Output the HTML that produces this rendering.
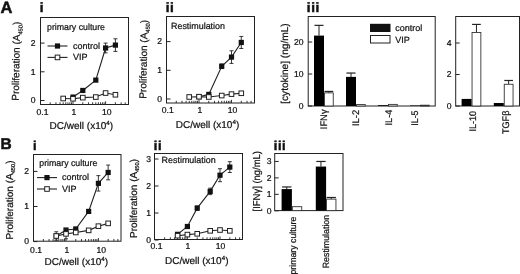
<!DOCTYPE html>
<html><head><meta charset="utf-8"><title>Figure</title>
<style>html,body{margin:0;padding:0;background:#fff;}svg{display:block;}</style></head>
<body>
<svg width="520" height="274" viewBox="0 0 520 274" font-family="'Liberation Sans', Arial, Helvetica, sans-serif" fill="#111" text-rendering="geometricPrecision">
<rect width="520" height="274" fill="#fff"/>
<rect x="40.50" y="17.50" width="88.00" height="87.00" fill="none" stroke="#222" stroke-width="1"/>
<line x1="40.50" y1="100.50" x2="44.50" y2="100.50" stroke="#222" stroke-width="1"/>
<text x="35.50" y="103.30" font-size="8.6" text-anchor="end" font-weight="normal" stroke="#111" stroke-width="0.22">0</text>
<line x1="40.50" y1="71.80" x2="44.50" y2="71.80" stroke="#222" stroke-width="1"/>
<text x="35.50" y="74.60" font-size="8.6" text-anchor="end" font-weight="normal" stroke="#111" stroke-width="0.22">1</text>
<line x1="40.50" y1="43.10" x2="44.50" y2="43.10" stroke="#222" stroke-width="1"/>
<text x="35.50" y="45.90" font-size="8.6" text-anchor="end" font-weight="normal" stroke="#111" stroke-width="0.22">2</text>
<line x1="50.21" y1="104.50" x2="50.21" y2="102.30" stroke="#222" stroke-width="0.9"/>
<line x1="55.95" y1="104.50" x2="55.95" y2="102.30" stroke="#222" stroke-width="0.9"/>
<line x1="60.03" y1="104.50" x2="60.03" y2="102.30" stroke="#222" stroke-width="0.9"/>
<line x1="63.19" y1="104.50" x2="63.19" y2="102.30" stroke="#222" stroke-width="0.9"/>
<line x1="65.77" y1="104.50" x2="65.77" y2="102.30" stroke="#222" stroke-width="0.9"/>
<line x1="67.95" y1="104.50" x2="67.95" y2="102.30" stroke="#222" stroke-width="0.9"/>
<line x1="69.84" y1="104.50" x2="69.84" y2="102.30" stroke="#222" stroke-width="0.9"/>
<line x1="71.51" y1="104.50" x2="71.51" y2="102.30" stroke="#222" stroke-width="0.9"/>
<line x1="73.00" y1="104.50" x2="73.00" y2="101.30" stroke="#222" stroke-width="0.9"/>
<line x1="82.81" y1="104.50" x2="82.81" y2="102.30" stroke="#222" stroke-width="0.9"/>
<line x1="88.55" y1="104.50" x2="88.55" y2="102.30" stroke="#222" stroke-width="0.9"/>
<line x1="92.63" y1="104.50" x2="92.63" y2="102.30" stroke="#222" stroke-width="0.9"/>
<line x1="95.79" y1="104.50" x2="95.79" y2="102.30" stroke="#222" stroke-width="0.9"/>
<line x1="98.37" y1="104.50" x2="98.37" y2="102.30" stroke="#222" stroke-width="0.9"/>
<line x1="100.55" y1="104.50" x2="100.55" y2="102.30" stroke="#222" stroke-width="0.9"/>
<line x1="102.44" y1="104.50" x2="102.44" y2="102.30" stroke="#222" stroke-width="0.9"/>
<line x1="104.11" y1="104.50" x2="104.11" y2="102.30" stroke="#222" stroke-width="0.9"/>
<line x1="105.60" y1="104.50" x2="105.60" y2="101.30" stroke="#222" stroke-width="0.9"/>
<line x1="115.41" y1="104.50" x2="115.41" y2="102.30" stroke="#222" stroke-width="0.9"/>
<line x1="121.15" y1="104.50" x2="121.15" y2="102.30" stroke="#222" stroke-width="0.9"/>
<line x1="125.23" y1="104.50" x2="125.23" y2="102.30" stroke="#222" stroke-width="0.9"/>
<text x="42.50" y="115.00" font-size="8.6" text-anchor="middle" font-weight="normal" stroke="#111" stroke-width="0.22">0.1</text>
<text x="73.80" y="115.00" font-size="8.6" text-anchor="middle" font-weight="normal" stroke="#111" stroke-width="0.22">1</text>
<text x="106.80" y="115.00" font-size="8.6" text-anchor="middle" font-weight="normal" stroke="#111" stroke-width="0.22">10</text>
<text x="47.00" y="29.70" font-size="9" text-anchor="start" font-weight="normal" stroke="#111" stroke-width="0.22" textLength="58" lengthAdjust="spacingAndGlyphs">primary culture</text>
<polyline fill="none" stroke="#222" stroke-width="1.1" points="73.00,97.06 82.81,90.45 95.79,80.12 105.60,47.98 115.41,45.11"/>
<line x1="105.60" y1="43.10" x2="105.60" y2="52.86" stroke="#222" stroke-width="0.9"/>
<line x1="103.60" y1="43.10" x2="107.60" y2="43.10" stroke="#222" stroke-width="0.9"/>
<line x1="103.60" y1="52.86" x2="107.60" y2="52.86" stroke="#222" stroke-width="0.9"/>
<line x1="115.41" y1="38.80" x2="115.41" y2="51.42" stroke="#222" stroke-width="0.9"/>
<line x1="113.41" y1="38.80" x2="117.41" y2="38.80" stroke="#222" stroke-width="0.9"/>
<line x1="113.41" y1="51.42" x2="117.41" y2="51.42" stroke="#222" stroke-width="0.9"/>
<rect x="70.40" y="94.46" width="5.20" height="5.20" fill="#111" stroke="none" stroke-width="1"/>
<rect x="80.21" y="87.86" width="5.20" height="5.20" fill="#111" stroke="none" stroke-width="1"/>
<rect x="93.19" y="77.52" width="5.20" height="5.20" fill="#111" stroke="none" stroke-width="1"/>
<rect x="103.00" y="45.38" width="5.20" height="5.20" fill="#111" stroke="none" stroke-width="1"/>
<rect x="112.81" y="42.51" width="5.20" height="5.20" fill="#111" stroke="none" stroke-width="1"/>
<polyline fill="none" stroke="#222" stroke-width="1.1" points="63.19,98.49 73.00,98.78 82.81,97.63 95.79,97.06 105.60,93.04 115.41,94.76"/>
<rect x="60.89" y="96.19" width="4.60" height="4.60" fill="#fff" stroke="#222" stroke-width="1"/>
<rect x="70.70" y="96.48" width="4.60" height="4.60" fill="#fff" stroke="#222" stroke-width="1"/>
<rect x="80.51" y="95.33" width="4.60" height="4.60" fill="#fff" stroke="#222" stroke-width="1"/>
<rect x="93.49" y="94.76" width="4.60" height="4.60" fill="#fff" stroke="#222" stroke-width="1"/>
<rect x="103.30" y="90.74" width="4.60" height="4.60" fill="#fff" stroke="#222" stroke-width="1"/>
<rect x="113.11" y="92.46" width="4.60" height="4.60" fill="#fff" stroke="#222" stroke-width="1"/>
<line x1="47.50" y1="46.00" x2="67.50" y2="46.00" stroke="#222" stroke-width="1.1"/>
<rect x="54.90" y="43.40" width="5.20" height="5.20" fill="#111" stroke="none" stroke-width="1"/>
<line x1="47.50" y1="57.40" x2="67.50" y2="57.40" stroke="#222" stroke-width="1.1"/>
<rect x="55.20" y="55.10" width="4.60" height="4.60" fill="#fff" stroke="#222" stroke-width="1"/>
<text x="73.00" y="48.60" font-size="9" text-anchor="start" font-weight="normal" stroke="#111" stroke-width="0.22">control</text>
<text x="73.00" y="60.00" font-size="9" text-anchor="start" font-weight="normal" stroke="#111" stroke-width="0.22">VIP</text>
<text x="18.80" y="100.70" font-size="10" text-anchor="start" font-weight="normal" stroke="#111" stroke-width="0.22" transform="rotate(-89 18.80 100.70)">Proliferation (A<tspan font-size="5.7" dy="2.4">450</tspan><tspan dy="-2.4">)</tspan></text>
<text x="49.60" y="129.00" font-size="10" text-anchor="start" font-weight="normal" stroke="#111" stroke-width="0.22">DC/well (x10<tspan font-size="6.2" dy="-4">4</tspan><tspan dy="4">)</tspan></text>
<rect x="166.50" y="16.50" width="88.00" height="86.50" fill="none" stroke="#222" stroke-width="1"/>
<line x1="166.50" y1="99.00" x2="170.50" y2="99.00" stroke="#222" stroke-width="1"/>
<text x="162.00" y="101.80" font-size="8.6" text-anchor="end" font-weight="normal" stroke="#111" stroke-width="0.22">0</text>
<line x1="166.50" y1="70.30" x2="170.50" y2="70.30" stroke="#222" stroke-width="1"/>
<text x="162.00" y="73.10" font-size="8.6" text-anchor="end" font-weight="normal" stroke="#111" stroke-width="0.22">1</text>
<line x1="166.50" y1="41.60" x2="170.50" y2="41.60" stroke="#222" stroke-width="1"/>
<text x="162.00" y="44.40" font-size="8.6" text-anchor="end" font-weight="normal" stroke="#111" stroke-width="0.22">2</text>
<line x1="176.28" y1="103.00" x2="176.28" y2="100.80" stroke="#222" stroke-width="0.9"/>
<line x1="182.01" y1="103.00" x2="182.01" y2="100.80" stroke="#222" stroke-width="0.9"/>
<line x1="186.07" y1="103.00" x2="186.07" y2="100.80" stroke="#222" stroke-width="0.9"/>
<line x1="189.22" y1="103.00" x2="189.22" y2="100.80" stroke="#222" stroke-width="0.9"/>
<line x1="191.79" y1="103.00" x2="191.79" y2="100.80" stroke="#222" stroke-width="0.9"/>
<line x1="193.97" y1="103.00" x2="193.97" y2="100.80" stroke="#222" stroke-width="0.9"/>
<line x1="195.85" y1="103.00" x2="195.85" y2="100.80" stroke="#222" stroke-width="0.9"/>
<line x1="197.51" y1="103.00" x2="197.51" y2="100.80" stroke="#222" stroke-width="0.9"/>
<line x1="199.00" y1="103.00" x2="199.00" y2="99.80" stroke="#222" stroke-width="0.9"/>
<line x1="208.78" y1="103.00" x2="208.78" y2="100.80" stroke="#222" stroke-width="0.9"/>
<line x1="214.51" y1="103.00" x2="214.51" y2="100.80" stroke="#222" stroke-width="0.9"/>
<line x1="218.57" y1="103.00" x2="218.57" y2="100.80" stroke="#222" stroke-width="0.9"/>
<line x1="221.72" y1="103.00" x2="221.72" y2="100.80" stroke="#222" stroke-width="0.9"/>
<line x1="224.29" y1="103.00" x2="224.29" y2="100.80" stroke="#222" stroke-width="0.9"/>
<line x1="226.47" y1="103.00" x2="226.47" y2="100.80" stroke="#222" stroke-width="0.9"/>
<line x1="228.35" y1="103.00" x2="228.35" y2="100.80" stroke="#222" stroke-width="0.9"/>
<line x1="230.01" y1="103.00" x2="230.01" y2="100.80" stroke="#222" stroke-width="0.9"/>
<line x1="231.50" y1="103.00" x2="231.50" y2="99.80" stroke="#222" stroke-width="0.9"/>
<line x1="241.28" y1="103.00" x2="241.28" y2="100.80" stroke="#222" stroke-width="0.9"/>
<line x1="247.01" y1="103.00" x2="247.01" y2="100.80" stroke="#222" stroke-width="0.9"/>
<line x1="251.07" y1="103.00" x2="251.07" y2="100.80" stroke="#222" stroke-width="0.9"/>
<text x="167.75" y="113.30" font-size="8.6" text-anchor="middle" font-weight="normal" stroke="#111" stroke-width="0.22">0.1</text>
<text x="199.80" y="113.30" font-size="8.6" text-anchor="middle" font-weight="normal" stroke="#111" stroke-width="0.22">1</text>
<text x="232.50" y="113.30" font-size="8.6" text-anchor="middle" font-weight="normal" stroke="#111" stroke-width="0.22">10</text>
<text x="171.00" y="29.30" font-size="9" text-anchor="start" font-weight="normal" stroke="#111" stroke-width="0.22" textLength="54" lengthAdjust="spacingAndGlyphs">Restimulation</text>
<polyline fill="none" stroke="#222" stroke-width="1.1" points="199.00,96.70 208.78,94.41 221.72,66.28 231.50,57.10 241.28,42.46"/>
<line x1="221.72" y1="63.99" x2="221.72" y2="68.58" stroke="#222" stroke-width="0.9"/>
<line x1="219.72" y1="63.99" x2="223.72" y2="63.99" stroke="#222" stroke-width="0.9"/>
<line x1="219.72" y1="68.58" x2="223.72" y2="68.58" stroke="#222" stroke-width="0.9"/>
<line x1="231.50" y1="50.78" x2="231.50" y2="63.41" stroke="#222" stroke-width="0.9"/>
<line x1="229.50" y1="50.78" x2="233.50" y2="50.78" stroke="#222" stroke-width="0.9"/>
<line x1="229.50" y1="63.41" x2="233.50" y2="63.41" stroke="#222" stroke-width="0.9"/>
<line x1="241.28" y1="36.43" x2="241.28" y2="48.49" stroke="#222" stroke-width="0.9"/>
<line x1="239.28" y1="36.43" x2="243.28" y2="36.43" stroke="#222" stroke-width="0.9"/>
<line x1="239.28" y1="48.49" x2="243.28" y2="48.49" stroke="#222" stroke-width="0.9"/>
<rect x="196.40" y="94.10" width="5.20" height="5.20" fill="#111" stroke="none" stroke-width="1"/>
<rect x="206.18" y="91.81" width="5.20" height="5.20" fill="#111" stroke="none" stroke-width="1"/>
<rect x="219.12" y="63.68" width="5.20" height="5.20" fill="#111" stroke="none" stroke-width="1"/>
<rect x="228.90" y="54.50" width="5.20" height="5.20" fill="#111" stroke="none" stroke-width="1"/>
<rect x="238.68" y="39.86" width="5.20" height="5.20" fill="#111" stroke="none" stroke-width="1"/>
<polyline fill="none" stroke="#222" stroke-width="1.1" points="189.22,96.99 199.00,96.70 208.78,96.99 221.72,95.56 231.50,94.12 241.28,93.26"/>
<rect x="186.92" y="94.69" width="4.60" height="4.60" fill="#fff" stroke="#222" stroke-width="1"/>
<rect x="196.70" y="94.40" width="4.60" height="4.60" fill="#fff" stroke="#222" stroke-width="1"/>
<rect x="206.48" y="94.69" width="4.60" height="4.60" fill="#fff" stroke="#222" stroke-width="1"/>
<rect x="219.42" y="93.26" width="4.60" height="4.60" fill="#fff" stroke="#222" stroke-width="1"/>
<rect x="229.20" y="91.82" width="4.60" height="4.60" fill="#fff" stroke="#222" stroke-width="1"/>
<rect x="238.98" y="90.96" width="4.60" height="4.60" fill="#fff" stroke="#222" stroke-width="1"/>
<text x="146.20" y="98.80" font-size="10" text-anchor="start" font-weight="normal" stroke="#111" stroke-width="0.22" transform="rotate(-89 146.20 98.80)">Proliferation (A<tspan font-size="5.7" dy="2.4">450</tspan><tspan dy="-2.4">)</tspan></text>
<text x="175.75" y="127.50" font-size="10" text-anchor="start" font-weight="normal" stroke="#111" stroke-width="0.22">DC/well (x10<tspan font-size="6.2" dy="-4">4</tspan><tspan dy="4">)</tspan></text>
<rect x="33.50" y="154.50" width="87.50" height="86.70" fill="none" stroke="#222" stroke-width="1"/>
<line x1="33.50" y1="241.60" x2="37.50" y2="241.60" stroke="#222" stroke-width="1"/>
<text x="29.00" y="244.40" font-size="8.6" text-anchor="end" font-weight="normal" stroke="#111" stroke-width="0.22">0</text>
<line x1="33.50" y1="206.50" x2="37.50" y2="206.50" stroke="#222" stroke-width="1"/>
<text x="29.00" y="209.30" font-size="8.6" text-anchor="end" font-weight="normal" stroke="#111" stroke-width="0.22">1</text>
<line x1="33.50" y1="171.40" x2="37.50" y2="171.40" stroke="#222" stroke-width="1"/>
<text x="29.00" y="174.20" font-size="8.6" text-anchor="end" font-weight="normal" stroke="#111" stroke-width="0.22">2</text>
<line x1="43.35" y1="241.20" x2="43.35" y2="239.00" stroke="#222" stroke-width="0.9"/>
<line x1="49.06" y1="241.20" x2="49.06" y2="239.00" stroke="#222" stroke-width="0.9"/>
<line x1="53.11" y1="241.20" x2="53.11" y2="239.00" stroke="#222" stroke-width="0.9"/>
<line x1="56.25" y1="241.20" x2="56.25" y2="239.00" stroke="#222" stroke-width="0.9"/>
<line x1="58.81" y1="241.20" x2="58.81" y2="239.00" stroke="#222" stroke-width="0.9"/>
<line x1="60.98" y1="241.20" x2="60.98" y2="239.00" stroke="#222" stroke-width="0.9"/>
<line x1="62.86" y1="241.20" x2="62.86" y2="239.00" stroke="#222" stroke-width="0.9"/>
<line x1="64.52" y1="241.20" x2="64.52" y2="239.00" stroke="#222" stroke-width="0.9"/>
<line x1="66.00" y1="241.20" x2="66.00" y2="238.00" stroke="#222" stroke-width="0.9"/>
<line x1="75.75" y1="241.20" x2="75.75" y2="239.00" stroke="#222" stroke-width="0.9"/>
<line x1="81.46" y1="241.20" x2="81.46" y2="239.00" stroke="#222" stroke-width="0.9"/>
<line x1="85.51" y1="241.20" x2="85.51" y2="239.00" stroke="#222" stroke-width="0.9"/>
<line x1="88.65" y1="241.20" x2="88.65" y2="239.00" stroke="#222" stroke-width="0.9"/>
<line x1="91.21" y1="241.20" x2="91.21" y2="239.00" stroke="#222" stroke-width="0.9"/>
<line x1="93.38" y1="241.20" x2="93.38" y2="239.00" stroke="#222" stroke-width="0.9"/>
<line x1="95.26" y1="241.20" x2="95.26" y2="239.00" stroke="#222" stroke-width="0.9"/>
<line x1="96.92" y1="241.20" x2="96.92" y2="239.00" stroke="#222" stroke-width="0.9"/>
<line x1="98.40" y1="241.20" x2="98.40" y2="238.00" stroke="#222" stroke-width="0.9"/>
<line x1="108.15" y1="241.20" x2="108.15" y2="239.00" stroke="#222" stroke-width="0.9"/>
<line x1="113.86" y1="241.20" x2="113.86" y2="239.00" stroke="#222" stroke-width="0.9"/>
<line x1="117.91" y1="241.20" x2="117.91" y2="239.00" stroke="#222" stroke-width="0.9"/>
<text x="36.10" y="252.60" font-size="8.6" text-anchor="middle" font-weight="normal" stroke="#111" stroke-width="0.22">0.1</text>
<text x="66.80" y="252.60" font-size="8.6" text-anchor="middle" font-weight="normal" stroke="#111" stroke-width="0.22">1</text>
<text x="101.30" y="252.60" font-size="8.6" text-anchor="middle" font-weight="normal" stroke="#111" stroke-width="0.22">10</text>
<text x="39.30" y="166.20" font-size="9" text-anchor="start" font-weight="normal" stroke="#111" stroke-width="0.22" textLength="58" lengthAdjust="spacingAndGlyphs">primary culture</text>
<polyline fill="none" stroke="#222" stroke-width="1.1" points="56.25,235.98 66.00,230.02 75.75,228.96 88.65,211.41 98.40,183.33 108.15,172.45"/>
<line x1="98.40" y1="175.61" x2="98.40" y2="191.06" stroke="#222" stroke-width="0.9"/>
<line x1="96.40" y1="175.61" x2="100.40" y2="175.61" stroke="#222" stroke-width="0.9"/>
<line x1="96.40" y1="191.06" x2="100.40" y2="191.06" stroke="#222" stroke-width="0.9"/>
<line x1="108.15" y1="165.08" x2="108.15" y2="179.82" stroke="#222" stroke-width="0.9"/>
<line x1="106.15" y1="165.08" x2="110.15" y2="165.08" stroke="#222" stroke-width="0.9"/>
<line x1="106.15" y1="179.82" x2="110.15" y2="179.82" stroke="#222" stroke-width="0.9"/>
<rect x="53.65" y="233.38" width="5.20" height="5.20" fill="#111" stroke="none" stroke-width="1"/>
<rect x="63.40" y="227.42" width="5.20" height="5.20" fill="#111" stroke="none" stroke-width="1"/>
<rect x="73.15" y="226.36" width="5.20" height="5.20" fill="#111" stroke="none" stroke-width="1"/>
<rect x="86.05" y="208.81" width="5.20" height="5.20" fill="#111" stroke="none" stroke-width="1"/>
<rect x="95.80" y="180.73" width="5.20" height="5.20" fill="#111" stroke="none" stroke-width="1"/>
<rect x="105.55" y="169.85" width="5.20" height="5.20" fill="#111" stroke="none" stroke-width="1"/>
<polyline fill="none" stroke="#222" stroke-width="1.1" points="56.25,235.98 66.00,233.88 75.75,232.47 88.65,230.37 98.40,226.16 108.15,223.35"/>
<line x1="56.25" y1="231.77" x2="56.25" y2="240.20" stroke="#222" stroke-width="0.9"/>
<line x1="54.25" y1="231.77" x2="58.25" y2="231.77" stroke="#222" stroke-width="0.9"/>
<line x1="54.25" y1="240.20" x2="58.25" y2="240.20" stroke="#222" stroke-width="0.9"/>
<line x1="66.00" y1="228.96" x2="66.00" y2="238.79" stroke="#222" stroke-width="0.9"/>
<line x1="64.00" y1="228.96" x2="68.00" y2="228.96" stroke="#222" stroke-width="0.9"/>
<line x1="64.00" y1="238.79" x2="68.00" y2="238.79" stroke="#222" stroke-width="0.9"/>
<rect x="53.95" y="233.68" width="4.60" height="4.60" fill="#fff" stroke="#222" stroke-width="1"/>
<rect x="63.70" y="231.58" width="4.60" height="4.60" fill="#fff" stroke="#222" stroke-width="1"/>
<rect x="73.45" y="230.17" width="4.60" height="4.60" fill="#fff" stroke="#222" stroke-width="1"/>
<rect x="86.35" y="228.07" width="4.60" height="4.60" fill="#fff" stroke="#222" stroke-width="1"/>
<rect x="96.10" y="223.86" width="4.60" height="4.60" fill="#fff" stroke="#222" stroke-width="1"/>
<rect x="105.85" y="221.05" width="4.60" height="4.60" fill="#fff" stroke="#222" stroke-width="1"/>
<line x1="37.00" y1="177.60" x2="57.00" y2="177.60" stroke="#222" stroke-width="1.1"/>
<rect x="44.40" y="175.00" width="5.20" height="5.20" fill="#111" stroke="none" stroke-width="1"/>
<line x1="37.00" y1="189.00" x2="57.00" y2="189.00" stroke="#222" stroke-width="1.1"/>
<rect x="44.70" y="186.70" width="4.60" height="4.60" fill="#fff" stroke="#222" stroke-width="1"/>
<text x="62.00" y="180.20" font-size="9" text-anchor="start" font-weight="normal" stroke="#111" stroke-width="0.22">control</text>
<text x="62.00" y="191.60" font-size="9" text-anchor="start" font-weight="normal" stroke="#111" stroke-width="0.22">VIP</text>
<text x="13.00" y="239.50" font-size="10" text-anchor="start" font-weight="normal" stroke="#111" stroke-width="0.22" transform="rotate(-90 13.00 239.50)">Proliferation (A<tspan font-size="5.7" dy="2.4">450</tspan><tspan dy="-2.4">)</tspan></text>
<text x="44.60" y="265.00" font-size="10" text-anchor="start" font-weight="normal" stroke="#111" stroke-width="0.22">DC/well (x10<tspan font-size="6.2" dy="-4">4</tspan><tspan dy="4">)</tspan></text>
<rect x="154.50" y="153.50" width="88.00" height="86.00" fill="none" stroke="#222" stroke-width="1"/>
<line x1="154.50" y1="240.00" x2="158.50" y2="240.00" stroke="#222" stroke-width="1"/>
<text x="151.00" y="242.80" font-size="8.6" text-anchor="end" font-weight="normal" stroke="#111" stroke-width="0.22">0</text>
<line x1="154.50" y1="213.00" x2="158.50" y2="213.00" stroke="#222" stroke-width="1"/>
<text x="151.00" y="215.80" font-size="8.6" text-anchor="end" font-weight="normal" stroke="#111" stroke-width="0.22">1</text>
<line x1="154.50" y1="186.00" x2="158.50" y2="186.00" stroke="#222" stroke-width="1"/>
<text x="151.00" y="188.80" font-size="8.6" text-anchor="end" font-weight="normal" stroke="#111" stroke-width="0.22">2</text>
<line x1="154.50" y1="159.00" x2="158.50" y2="159.00" stroke="#222" stroke-width="1"/>
<text x="151.00" y="161.80" font-size="8.6" text-anchor="end" font-weight="normal" stroke="#111" stroke-width="0.22">3</text>
<line x1="164.61" y1="239.50" x2="164.61" y2="237.30" stroke="#222" stroke-width="0.9"/>
<line x1="170.35" y1="239.50" x2="170.35" y2="237.30" stroke="#222" stroke-width="0.9"/>
<line x1="174.43" y1="239.50" x2="174.43" y2="237.30" stroke="#222" stroke-width="0.9"/>
<line x1="177.59" y1="239.50" x2="177.59" y2="237.30" stroke="#222" stroke-width="0.9"/>
<line x1="180.17" y1="239.50" x2="180.17" y2="237.30" stroke="#222" stroke-width="0.9"/>
<line x1="182.35" y1="239.50" x2="182.35" y2="237.30" stroke="#222" stroke-width="0.9"/>
<line x1="184.24" y1="239.50" x2="184.24" y2="237.30" stroke="#222" stroke-width="0.9"/>
<line x1="185.91" y1="239.50" x2="185.91" y2="237.30" stroke="#222" stroke-width="0.9"/>
<line x1="187.40" y1="239.50" x2="187.40" y2="236.30" stroke="#222" stroke-width="0.9"/>
<line x1="197.21" y1="239.50" x2="197.21" y2="237.30" stroke="#222" stroke-width="0.9"/>
<line x1="202.95" y1="239.50" x2="202.95" y2="237.30" stroke="#222" stroke-width="0.9"/>
<line x1="207.03" y1="239.50" x2="207.03" y2="237.30" stroke="#222" stroke-width="0.9"/>
<line x1="210.19" y1="239.50" x2="210.19" y2="237.30" stroke="#222" stroke-width="0.9"/>
<line x1="212.77" y1="239.50" x2="212.77" y2="237.30" stroke="#222" stroke-width="0.9"/>
<line x1="214.95" y1="239.50" x2="214.95" y2="237.30" stroke="#222" stroke-width="0.9"/>
<line x1="216.84" y1="239.50" x2="216.84" y2="237.30" stroke="#222" stroke-width="0.9"/>
<line x1="218.51" y1="239.50" x2="218.51" y2="237.30" stroke="#222" stroke-width="0.9"/>
<line x1="220.00" y1="239.50" x2="220.00" y2="236.30" stroke="#222" stroke-width="0.9"/>
<line x1="229.81" y1="239.50" x2="229.81" y2="237.30" stroke="#222" stroke-width="0.9"/>
<line x1="235.55" y1="239.50" x2="235.55" y2="237.30" stroke="#222" stroke-width="0.9"/>
<line x1="239.63" y1="239.50" x2="239.63" y2="237.30" stroke="#222" stroke-width="0.9"/>
<text x="156.55" y="249.00" font-size="8.6" text-anchor="middle" font-weight="normal" stroke="#111" stroke-width="0.22">0.1</text>
<text x="187.90" y="249.00" font-size="8.6" text-anchor="middle" font-weight="normal" stroke="#111" stroke-width="0.22">1</text>
<text x="220.60" y="249.00" font-size="8.6" text-anchor="middle" font-weight="normal" stroke="#111" stroke-width="0.22">10</text>
<text x="161.60" y="163.00" font-size="9" text-anchor="start" font-weight="normal" stroke="#111" stroke-width="0.22" textLength="54" lengthAdjust="spacingAndGlyphs">Restimulation</text>
<polyline fill="none" stroke="#222" stroke-width="1.1" points="177.59,234.33 187.40,226.50 197.21,208.14 210.19,191.40 220.00,175.20 229.81,167.10"/>
<line x1="197.21" y1="205.98" x2="197.21" y2="210.30" stroke="#222" stroke-width="0.9"/>
<line x1="195.21" y1="205.98" x2="199.21" y2="205.98" stroke="#222" stroke-width="0.9"/>
<line x1="195.21" y1="210.30" x2="199.21" y2="210.30" stroke="#222" stroke-width="0.9"/>
<line x1="210.19" y1="188.16" x2="210.19" y2="194.64" stroke="#222" stroke-width="0.9"/>
<line x1="208.19" y1="188.16" x2="212.19" y2="188.16" stroke="#222" stroke-width="0.9"/>
<line x1="208.19" y1="194.64" x2="212.19" y2="194.64" stroke="#222" stroke-width="0.9"/>
<line x1="220.00" y1="168.72" x2="220.00" y2="181.68" stroke="#222" stroke-width="0.9"/>
<line x1="218.00" y1="168.72" x2="222.00" y2="168.72" stroke="#222" stroke-width="0.9"/>
<line x1="218.00" y1="181.68" x2="222.00" y2="181.68" stroke="#222" stroke-width="0.9"/>
<line x1="229.81" y1="161.70" x2="229.81" y2="172.50" stroke="#222" stroke-width="0.9"/>
<line x1="227.81" y1="161.70" x2="231.81" y2="161.70" stroke="#222" stroke-width="0.9"/>
<line x1="227.81" y1="172.50" x2="231.81" y2="172.50" stroke="#222" stroke-width="0.9"/>
<rect x="174.99" y="231.73" width="5.20" height="5.20" fill="#111" stroke="none" stroke-width="1"/>
<rect x="184.80" y="223.90" width="5.20" height="5.20" fill="#111" stroke="none" stroke-width="1"/>
<rect x="194.61" y="205.54" width="5.20" height="5.20" fill="#111" stroke="none" stroke-width="1"/>
<rect x="207.59" y="188.80" width="5.20" height="5.20" fill="#111" stroke="none" stroke-width="1"/>
<rect x="217.40" y="172.60" width="5.20" height="5.20" fill="#111" stroke="none" stroke-width="1"/>
<rect x="227.21" y="164.50" width="5.20" height="5.20" fill="#111" stroke="none" stroke-width="1"/>
<polyline fill="none" stroke="#222" stroke-width="1.1" points="177.59,235.68 187.40,234.60 197.21,233.79 210.19,230.82 220.00,230.01 229.81,230.82"/>
<rect x="175.29" y="233.38" width="4.60" height="4.60" fill="#fff" stroke="#222" stroke-width="1"/>
<rect x="185.10" y="232.30" width="4.60" height="4.60" fill="#fff" stroke="#222" stroke-width="1"/>
<rect x="194.91" y="231.49" width="4.60" height="4.60" fill="#fff" stroke="#222" stroke-width="1"/>
<rect x="207.89" y="228.52" width="4.60" height="4.60" fill="#fff" stroke="#222" stroke-width="1"/>
<rect x="217.70" y="227.71" width="4.60" height="4.60" fill="#fff" stroke="#222" stroke-width="1"/>
<rect x="227.51" y="228.52" width="4.60" height="4.60" fill="#fff" stroke="#222" stroke-width="1"/>
<text x="137.00" y="238.00" font-size="10" text-anchor="start" font-weight="normal" stroke="#111" stroke-width="0.22" transform="rotate(-90 137.00 238.00)">Proliferation (A<tspan font-size="5.7" dy="2.4">450</tspan><tspan dy="-2.4">)</tspan></text>
<text x="165.00" y="263.50" font-size="10" text-anchor="start" font-weight="normal" stroke="#111" stroke-width="0.22">DC/well (x10<tspan font-size="6.2" dy="-4">4</tspan><tspan dy="4">)</tspan></text>
<rect x="308.20" y="16.50" width="127.00" height="89.50" fill="none" stroke="#222" stroke-width="1"/>
<line x1="308.20" y1="106.00" x2="312.20" y2="106.00" stroke="#222" stroke-width="1"/>
<text x="303.50" y="108.80" font-size="8.6" text-anchor="end" font-weight="normal" stroke="#111" stroke-width="0.22">0</text>
<line x1="308.20" y1="74.00" x2="312.20" y2="74.00" stroke="#222" stroke-width="1"/>
<text x="303.50" y="76.80" font-size="8.6" text-anchor="end" font-weight="normal" stroke="#111" stroke-width="0.22">10</text>
<line x1="308.20" y1="42.00" x2="312.20" y2="42.00" stroke="#222" stroke-width="1"/>
<text x="303.50" y="44.80" font-size="8.6" text-anchor="end" font-weight="normal" stroke="#111" stroke-width="0.22">20</text>
<line x1="319.00" y1="35.60" x2="319.00" y2="25.36" stroke="#222" stroke-width="1"/>
<line x1="314.50" y1="25.36" x2="323.50" y2="25.36" stroke="#222" stroke-width="1.2"/>
<rect x="314.00" y="35.60" width="10.00" height="70.40" fill="#000" stroke="none" stroke-width="1"/>
<line x1="328.85" y1="92.88" x2="328.85" y2="91.44" stroke="#222" stroke-width="1"/>
<line x1="324.50" y1="91.44" x2="333.20" y2="91.44" stroke="#222" stroke-width="1.2"/>
<rect x="324.45" y="92.88" width="8.80" height="13.12" fill="#fff" stroke="#333" stroke-width="0.9"/>
<line x1="351.00" y1="76.88" x2="351.00" y2="73.04" stroke="#222" stroke-width="1"/>
<line x1="346.50" y1="73.04" x2="355.50" y2="73.04" stroke="#222" stroke-width="1.2"/>
<rect x="346.00" y="76.88" width="10.00" height="29.12" fill="#000" stroke="none" stroke-width="1"/>
<rect x="356.45" y="104.56" width="8.80" height="1.44" fill="#fff" stroke="#333" stroke-width="0.9"/>
<rect x="378.00" y="105.20" width="10.00" height="0.80" fill="#000" stroke="none" stroke-width="1"/>
<rect x="388.45" y="104.40" width="8.80" height="1.60" fill="#fff" stroke="#333" stroke-width="0.9"/>
<rect x="410.00" y="105.52" width="10.00" height="0.48" fill="#000" stroke="none" stroke-width="1"/>
<rect x="420.45" y="105.20" width="8.80" height="0.80" fill="#fff" stroke="#333" stroke-width="0.9"/>
<rect x="370.00" y="23.80" width="20.50" height="8.20" fill="#111" stroke="none" stroke-width="1"/>
<rect x="370.50" y="35.50" width="19.50" height="7.50" fill="#fff" stroke="#222" stroke-width="1"/>
<text x="395.30" y="30.60" font-size="9" text-anchor="start" font-weight="normal" stroke="#111" stroke-width="0.22">control</text>
<text x="395.30" y="42.60" font-size="9" text-anchor="start" font-weight="normal" stroke="#111" stroke-width="0.22">VIP</text>
<rect x="455.70" y="16.50" width="63.80" height="89.50" fill="none" stroke="#222" stroke-width="1"/>
<line x1="455.70" y1="106.00" x2="459.70" y2="106.00" stroke="#222" stroke-width="1"/>
<text x="451.50" y="108.80" font-size="8.6" text-anchor="end" font-weight="normal" stroke="#111" stroke-width="0.22">0</text>
<line x1="455.70" y1="74.50" x2="459.70" y2="74.50" stroke="#222" stroke-width="1"/>
<text x="451.50" y="77.30" font-size="8.6" text-anchor="end" font-weight="normal" stroke="#111" stroke-width="0.22">2</text>
<line x1="455.70" y1="43.00" x2="459.70" y2="43.00" stroke="#222" stroke-width="1"/>
<text x="451.50" y="45.80" font-size="8.6" text-anchor="end" font-weight="normal" stroke="#111" stroke-width="0.22">4</text>
<rect x="461.60" y="98.91" width="10.00" height="7.09" fill="#000" stroke="none" stroke-width="1"/>
<line x1="476.45" y1="32.45" x2="476.45" y2="24.42" stroke="#222" stroke-width="1"/>
<line x1="472.10" y1="24.42" x2="480.80" y2="24.42" stroke="#222" stroke-width="1.2"/>
<rect x="472.05" y="32.45" width="8.80" height="73.55" fill="#fff" stroke="#333" stroke-width="0.9"/>
<rect x="493.80" y="103.01" width="10.00" height="2.99" fill="#000" stroke="none" stroke-width="1"/>
<line x1="508.65" y1="84.27" x2="508.65" y2="80.48" stroke="#222" stroke-width="1"/>
<line x1="504.30" y1="80.48" x2="513.00" y2="80.48" stroke="#222" stroke-width="1.2"/>
<rect x="504.25" y="84.27" width="8.80" height="21.73" fill="#fff" stroke="#333" stroke-width="0.9"/>
<text x="287.60" y="103.80" font-size="10" text-anchor="start" font-weight="normal" stroke="#111" stroke-width="0.22" transform="rotate(-90 287.60 103.80)" textLength="80.5" lengthAdjust="spacingAndGlyphs">[cytokine] (ng/mL)</text>
<text x="327.40" y="109.40" font-size="9.6" text-anchor="end" font-weight="normal" stroke="#111" stroke-width="0.22" transform="rotate(-90 327.40 109.40)" textLength="19.8" lengthAdjust="spacingAndGlyphs">IFNγ</text>
<text x="359.40" y="109.80" font-size="9.6" text-anchor="end" font-weight="normal" stroke="#111" stroke-width="0.22" transform="rotate(-90 359.40 109.80)" textLength="16.2" lengthAdjust="spacingAndGlyphs">IL-2</text>
<text x="392.00" y="109.80" font-size="9.6" text-anchor="end" font-weight="normal" stroke="#111" stroke-width="0.22" transform="rotate(-90 392.00 109.80)" textLength="15.6" lengthAdjust="spacingAndGlyphs">IL-4</text>
<text x="418.40" y="110.40" font-size="9.6" text-anchor="end" font-weight="normal" stroke="#111" stroke-width="0.22" transform="rotate(-90 418.40 110.40)" textLength="15.4" lengthAdjust="spacingAndGlyphs">IL-5</text>
<text x="476.00" y="111.00" font-size="9.6" text-anchor="end" font-weight="normal" stroke="#111" stroke-width="0.22" transform="rotate(-90 476.00 111.00)" textLength="20.4" lengthAdjust="spacingAndGlyphs">IL-10</text>
<text x="509.40" y="110.60" font-size="9.6" text-anchor="end" font-weight="normal" stroke="#111" stroke-width="0.22" transform="rotate(-90 509.40 110.60)" textLength="23.4" lengthAdjust="spacingAndGlyphs">TGFβ</text>
<rect x="274.70" y="153.50" width="68.30" height="57.10" fill="none" stroke="#222" stroke-width="1"/>
<line x1="274.70" y1="210.80" x2="278.70" y2="210.80" stroke="#222" stroke-width="1"/>
<text x="271.50" y="213.60" font-size="8.6" text-anchor="end" font-weight="normal" stroke="#111" stroke-width="0.22">0</text>
<line x1="274.70" y1="194.35" x2="278.70" y2="194.35" stroke="#222" stroke-width="1"/>
<text x="271.50" y="197.15" font-size="8.6" text-anchor="end" font-weight="normal" stroke="#111" stroke-width="0.22">1</text>
<line x1="274.70" y1="177.90" x2="278.70" y2="177.90" stroke="#222" stroke-width="1"/>
<text x="271.50" y="180.70" font-size="8.6" text-anchor="end" font-weight="normal" stroke="#111" stroke-width="0.22">2</text>
<line x1="274.70" y1="161.45" x2="278.70" y2="161.45" stroke="#222" stroke-width="1"/>
<text x="271.50" y="164.25" font-size="8.6" text-anchor="end" font-weight="normal" stroke="#111" stroke-width="0.22">3</text>
<line x1="286.75" y1="189.09" x2="286.75" y2="186.95" stroke="#222" stroke-width="1"/>
<line x1="282.10" y1="186.95" x2="291.40" y2="186.95" stroke="#222" stroke-width="1.2"/>
<rect x="281.60" y="189.09" width="10.30" height="21.51" fill="#000" stroke="none" stroke-width="1"/>
<rect x="292.35" y="206.69" width="9.40" height="3.91" fill="#fff" stroke="#333" stroke-width="0.9"/>
<line x1="320.95" y1="166.55" x2="320.95" y2="161.45" stroke="#222" stroke-width="1"/>
<line x1="316.30" y1="161.45" x2="325.60" y2="161.45" stroke="#222" stroke-width="1.2"/>
<rect x="315.80" y="166.55" width="10.30" height="44.05" fill="#000" stroke="none" stroke-width="1"/>
<line x1="331.25" y1="199.12" x2="331.25" y2="197.48" stroke="#222" stroke-width="1"/>
<line x1="326.60" y1="197.48" x2="335.90" y2="197.48" stroke="#222" stroke-width="1.2"/>
<rect x="326.55" y="199.12" width="9.40" height="11.48" fill="#fff" stroke="#333" stroke-width="0.9"/>
<text x="260.20" y="211.40" font-size="10" text-anchor="start" font-weight="normal" stroke="#111" stroke-width="0.22" transform="rotate(-90 260.20 211.40)" textLength="60.4" lengthAdjust="spacingAndGlyphs">[IFNγ] (ng/mL)</text>
<text x="296.00" y="216.60" font-size="9" text-anchor="end" font-weight="normal" stroke="#111" stroke-width="0.22" transform="rotate(-90 296.00 216.60)" textLength="58" lengthAdjust="spacingAndGlyphs">primary culture</text>
<text x="329.30" y="214.80" font-size="9" text-anchor="end" font-weight="normal" stroke="#111" stroke-width="0.22" transform="rotate(-90 329.30 214.80)" textLength="53.5" lengthAdjust="spacingAndGlyphs">Restimulation</text>
<text x="0.60" y="12.50" font-size="16.5" text-anchor="start" font-weight="bold" stroke="#111" stroke-width="0.5">A</text>
<text x="0.60" y="149.00" font-size="15.5" text-anchor="start" font-weight="bold" stroke="#111" stroke-width="0.5">B</text>
<text x="39.70" y="12.30" font-size="13.5" text-anchor="start" font-weight="bold" stroke="#111" stroke-width="0.5" letter-spacing="0.6">i</text>
<text x="165.70" y="12.30" font-size="13.5" text-anchor="start" font-weight="bold" stroke="#111" stroke-width="0.5" letter-spacing="0.6">ii</text>
<text x="306.80" y="12.30" font-size="13.5" text-anchor="start" font-weight="bold" stroke="#111" stroke-width="0.5" letter-spacing="0.6">iii</text>
<text x="33.00" y="149.50" font-size="12.7" text-anchor="start" font-weight="bold" stroke="#111" stroke-width="0.5" letter-spacing="0.6">i</text>
<text x="153.80" y="149.50" font-size="12.7" text-anchor="start" font-weight="bold" stroke="#111" stroke-width="0.5" letter-spacing="0.6">ii</text>
<text x="273.80" y="149.50" font-size="12.7" text-anchor="start" font-weight="bold" stroke="#111" stroke-width="0.5" letter-spacing="0.6">iii</text>
</svg>
</body></html>
